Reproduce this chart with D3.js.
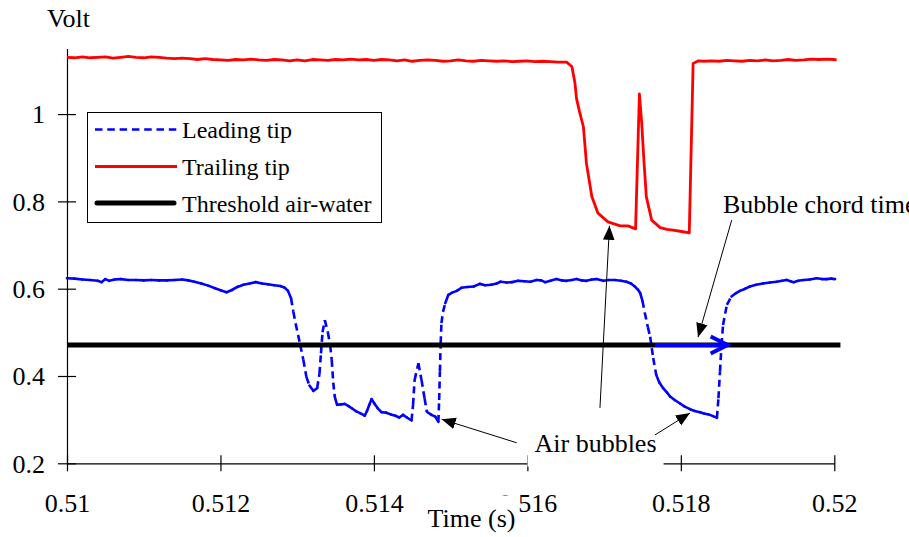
<!DOCTYPE html>
<html><head><meta charset="utf-8">
<script src="https://cdn.jsdelivr.net/npm/d3@7"></script>
<style>
body{margin:0;background:#fff;}
text{font-family:"Liberation Serif","Times New Roman",serif;fill:#000;}
</style></head><body>
<svg id="c" width="909" height="537"></svg>
<script>
// ---------------- data ----------------
const seriesNames = ["Leading tip", "Trailing tip", "Threshold air-water"];

const leadingT = [0.51000,0.51010,0.51020,0.51030,0.51040,0.51045,0.51050,0.51055,0.51062,0.51070,0.51080,0.51090,0.51100,0.51110,0.51120,0.51130,0.51140,0.51150,0.51158,0.51166,0.51175,0.51184,0.51193,0.51201,0.51208,0.51215,0.51222,0.51230,0.51238,0.51246,0.51254,0.51262,0.51270,0.51278,0.51284,0.51288,
0.51292,0.51295,0.51298,0.51304,0.51308,0.51312,0.51316,0.51321,0.51326,0.51329,0.51331,0.51333,0.51336,0.51340,0.51343,0.51345,0.51347,0.51349,0.51352,0.51357,0.51362,0.51367,0.51372,0.51377,0.51382,0.51388,0.51391,0.51394,0.51397,0.51401,0.51405,0.51410,0.51416,0.51422,0.51428,0.51433,0.51438,0.51443,0.51449,0.51451,0.51453,0.51458,0.51462,0.51466,0.51469,0.51475,0.51480,0.51484,0.51485,0.51486,0.51487,0.51488,0.51490,0.51493,0.51497,
0.51502,0.51508,0.51514,0.51522,0.51530,0.51538,0.51545,0.51553,0.51560,0.51565,0.51573,0.51580,0.51588,0.51596,0.51604,0.51612,0.51618,0.51623,0.51630,0.51638,0.51645,0.51651,0.51658,0.51664,0.51671,0.51677,0.51684,0.51690,0.51699,0.51706,0.51714,0.51722,0.51729,0.51735,0.51740,0.51744,0.51747,
0.51750,0.51753,0.51757,0.51760,0.51764,0.51768,0.51772,0.51777,0.51782,0.51786,0.51792,0.51799,0.51805,0.51812,0.51818,0.51825,0.51830,0.51836,0.51842,0.51847,0.51849,0.51851,0.51853,0.51855,0.51860,0.51866,0.51872,0.51877,0.51884,0.51890,0.51898,0.51907,0.51916,0.51925,0.51932,0.51938,0.51943,0.51947,0.51953,0.51960,0.51968,0.51977,0.51984,0.51990,0.51996,0.52001];
const leadingV = [0.624,0.623,0.621,0.620,0.618,0.615,0.622,0.618,0.621,0.622,0.620,0.620,0.619,0.620,0.619,0.619,0.620,0.621,0.619,0.616,0.612,0.607,0.601,0.596,0.592,0.597,0.604,0.609,0.612,0.615,0.612,0.610,0.608,0.606,0.602,0.595,
0.578,0.547,0.520,0.471,0.437,0.398,0.378,0.366,0.372,0.405,0.452,0.500,0.528,0.500,0.470,0.437,0.385,0.352,0.334,0.335,0.336,0.331,0.325,0.319,0.315,0.309,0.320,0.334,0.347,0.336,0.326,0.317,0.316,0.312,0.309,0.305,0.311,0.305,0.298,0.334,0.391,0.429,0.391,0.349,0.318,0.311,0.307,0.295,0.345,0.410,0.475,0.521,0.547,0.567,0.586,
0.591,0.595,0.602,0.604,0.605,0.611,0.608,0.609,0.612,0.616,0.614,0.615,0.618,0.617,0.616,0.620,0.619,0.615,0.618,0.622,0.619,0.618,0.620,0.622,0.619,0.618,0.621,0.622,0.618,0.620,0.620,0.618,0.616,0.612,0.605,0.598,0.590,
0.572,0.545,0.512,0.490,0.441,0.402,0.385,0.372,0.362,0.353,0.345,0.337,0.330,0.324,0.320,0.317,0.314,0.312,0.308,0.304,0.349,0.410,0.471,0.517,0.563,0.582,0.590,0.595,0.600,0.605,0.609,0.612,0.614,0.616,0.618,0.620,0.617,0.615,0.618,0.620,0.621,0.624,0.622,0.622,0.623,0.622];

const trailingT = [0.51000,0.51010,0.51020,0.51030,0.51040,0.51050,0.51060,0.51070,0.51080,0.51090,0.51100,0.51110,0.51120,0.51130,0.51140,0.51150,0.51160,0.51170,0.51180,0.51190,0.51200,0.51210,0.51220,0.51230,0.51240,0.51250,0.51260,0.51270,0.51280,0.51290,0.51300,0.51310,0.51320,0.51330,0.51340,0.51350,0.51360,0.51370,0.51380,0.51390,0.51400,0.51410,0.51420,0.51430,0.51440,0.51450,0.51460,0.51470,0.51480,0.51490,0.51500,0.51510,0.51520,0.51530,0.51540,0.51550,0.51560,0.51570,0.51580,0.51590,0.51600,0.51610,0.51620,0.51630,0.51640,
0.51651,0.51658,0.51662,0.51664,0.51668,0.51673,0.51677,0.51684,0.51692,0.51705,0.51721,0.51731,0.51741,0.51746,0.51749,0.51752,0.51755,0.51762,0.51773,0.51782,0.51790,0.51801,0.51811,0.51816,0.51823,
0.51830,0.51840,0.51850,0.51860,0.51870,0.51880,0.51890,0.51900,0.51910,0.51920,0.51930,0.51940,0.51950,0.51960,0.51970,0.51980,0.51990,0.52000,0.52003];
const trailingV = [1.130,1.129,1.131,1.129,1.130,1.131,1.128,1.130,1.132,1.130,1.129,1.131,1.130,1.128,1.127,1.128,1.127,1.125,1.127,1.125,1.124,1.123,1.125,1.124,1.126,1.124,1.123,1.125,1.124,1.122,1.124,1.122,1.125,1.124,1.123,1.125,1.124,1.126,1.124,1.125,1.123,1.125,1.124,1.122,1.124,1.121,1.123,1.124,1.123,1.121,1.122,1.124,1.122,1.121,1.123,1.122,1.121,1.122,1.120,1.121,1.122,1.120,1.121,1.120,1.119,
1.119,1.109,1.071,1.036,1.005,0.971,0.887,0.811,0.773,0.753,0.744,0.744,0.737,1.046,0.980,0.890,0.811,0.757,0.740,0.736,0.734,0.731,0.728,1.116,1.122,
1.121,1.122,1.121,1.123,1.122,1.121,1.123,1.122,1.124,1.122,1.123,1.125,1.123,1.124,1.126,1.125,1.126,1.125,1.124];

const thresholdT = [0.51, 0.52008];
const thresholdV = [0.471, 0.471];

const xMajor = [0.51, 0.512, 0.514, 0.516, 0.518, 0.52];
const xMajorLabels = ["0.51", "0.512", "0.514", "0.516", "0.518", "0.52"];
const xMinor = [0.511, 0.513, 0.515, 0.517, 0.519];
const yMajor = [0.2, 0.4, 0.6, 0.8, 1.0];
const yMajorLabels = ["0.2", "0.4", "0.6", "0.8", "1"];
const yMinor = [0.3, 0.5, 0.7, 0.9, 1.1];

// annotation arrows (data coordinates): tail -> tip
const arrowTailT = [0.515861, 0.517663, 0.516946, 0.518663];
const arrowTailV = [0.247, 0.265, 0.327, 0.757];
const arrowTipT  = [0.514883, 0.518119, 0.517070, 0.518224];
const arrowTipV  = [0.301, 0.315, 0.744, 0.489];
// bubble chord time arrow along threshold
const chordT = [0.51766, 0.51861];
const chordV = 0.471;
const airLabel = {text: "Air bubbles", t: 0.516888, v: 0.2266};
const chordLabel = {text: "Bubble chord time", t: 0.518549, v: 0.773};

// ---------------- chart ----------------
const svg = d3.select("#c");
const x = d3.scaleLinear().domain([0.51, 0.52]).range([67, 834.3]);
const y = d3.scaleLinear().domain([0.2, 1.15]).range([463.3, 48.6]);
const FS = 26;

const defs = svg.append("defs");
defs.append("marker").attr("id", "ah").attr("viewBox", "-14 -7 15 14")
  .attr("markerUnits", "userSpaceOnUse").attr("markerWidth", 15).attr("markerHeight", 14)
  .attr("refX", 0).attr("refY", 0).attr("orient", "auto")
  .append("path").attr("d", "M0,0 L-14,-5.8 L-14,5.8 Z").attr("fill", "#000");

// axes
const gx = svg.append("g").attr("transform", `translate(0,${y(0.2)})`);
gx.call(d3.axisBottom(x).tickValues(xMinor).tickSize(7).tickSizeOuter(0).tickFormat(""));
gx.call(d3.axisBottom(x).tickValues(xMajor).tickSize(8).tickSizeOuter(0)
  .tickFormat((d, i) => xMajorLabels[i]));
gx.selectAll(".tick line").filter(d => xMajor.includes(d)).attr("y1", -8);
gx.selectAll("path.domain").attr("stroke", "#000").attr("stroke-width", 1.2);
gx.selectAll(".tick line").attr("stroke", "#000").attr("stroke-width", 1.2);
gx.selectAll("text").attr("y", 48.5).attr("dy", 0).attr("font-size", FS)
  .attr("font-family", "Liberation Serif").attr("fill", "#000");

const gy = svg.append("g").attr("transform", `translate(${x(0.51)},0)`);
gy.call(d3.axisLeft(y).tickValues(yMinor).tickSize(7).tickSizeOuter(0).tickFormat(""));
gy.call(d3.axisLeft(y).tickValues(yMajor).tickSize(9).tickSizeOuter(0)
  .tickFormat((d, i) => yMajorLabels[i]));
gy.selectAll(".tick line").filter(d => yMajor.includes(d)).attr("x1", 9);
gy.selectAll("path.domain").attr("stroke", "#000").attr("stroke-width", 1.2);
gy.selectAll(".tick line").attr("stroke", "#000").attr("stroke-width", 1.2);
gy.selectAll("text").attr("x", -22).attr("dy", "0.34em").attr("font-size", FS)
  .attr("font-family", "Liberation Serif").attr("fill", "#000");

svg.append("text").attr("x", 47).attr("y", 27).attr("font-size", FS).text("Volt");

// series
const line = d3.line().x(d => x(d[0])).y(d => y(d[1]));
const leadPts = leadingT.map((t, i) => [t, leadingV[i]]);
const gLead = svg.append("g");
for (let i = 0; i < leadPts.length - 1; i++) {
  const a = leadPts[i], b = leadPts[i + 1];
  const len = Math.hypot(x(b[0]) - x(a[0]), y(b[1]) - y(a[1]));
  // dash pattern restarts on every segment (short segments look solid)
  gLead.append("path").attr("d", line([a, b]))
    .attr("fill", "none").attr("stroke", "#0000ff").attr("stroke-width", 2.6)
    .attr("stroke-dasharray", len > 9 ? "7,4.5" : null)
    .attr("stroke-linecap", len > 9 ? "butt" : "round");
}
svg.append("path").attr("d", line(trailingT.map((t, i) => [t, trailingV[i]])))
  .attr("fill", "none").attr("stroke", "#ff0000").attr("stroke-width", 2.8)
  .attr("stroke-linejoin", "round");
svg.append("path").attr("d", line(thresholdT.map((t, i) => [t, thresholdV[i]])))
  .attr("fill", "none").attr("stroke", "#000").attr("stroke-width", 5);

// chord arrow
const cx1 = x(chordT[0]), cx2 = x(chordT[1]), cy = y(chordV);
svg.append("line").attr("x1", cx1).attr("x2", cx2 - 2).attr("y1", cy).attr("y2", cy)
  .attr("stroke", "#0000ff").attr("stroke-width", 4);
svg.append("polyline").attr("points", `${cx2 - 17},${cy - 8.5} ${cx2},${cy} ${cx2 - 17},${cy + 8.5}`)
  .attr("fill", "none").attr("stroke", "#0000ff").attr("stroke-width", 4);

// text boxes
function boxedText(tx, ty, txt, anchor, pad) {
  const g = svg.append("g");
  const r = g.append("rect").attr("fill", "#fff");
  const t = g.append("text").attr("x", tx).attr("y", ty).attr("font-size", FS)
    .attr("text-anchor", anchor).text(txt);
  const b = t.node().getBBox();
  r.attr("x", b.x - pad[0]).attr("y", b.y - pad[1])
   .attr("width", b.width + pad[0] + pad[2]).attr("height", b.height + pad[1] + pad[3]);
  return g;
}
boxedText(x(airLabel.t), y(airLabel.v), airLabel.text, "middle", [7, 6, 7, 9]);
boxedText(471.5, 526.5, "Time (s)", "middle", [7, 8, 3, 4]);
boxedText(x(chordLabel.t), y(chordLabel.v), chordLabel.text, "start", [4, 2, 4, 2]);

// annotation arrows
arrowTailT.forEach((t, i) => {
  svg.append("line").attr("x1", x(t)).attr("y1", y(arrowTailV[i]))
    .attr("x2", x(arrowTipT[i])).attr("y2", y(arrowTipV[i]))
    .attr("stroke", "#000").attr("stroke-width", 1).attr("marker-end", "url(#ah)");
});

// legend
const lg = svg.append("g");
lg.append("rect").attr("x", 87.5).attr("y", 112.5).attr("width", 294).attr("height", 110)
  .attr("fill", "#fff").attr("stroke", "#000").attr("stroke-width", 1);
const rowsY = [129.5, 166.5, 203];
lg.append("line").attr("x1", 95).attr("x2", 177).attr("y1", rowsY[0]).attr("y2", rowsY[0])
  .attr("stroke", "#0000ff").attr("stroke-width", 2.6).attr("stroke-dasharray", "7.5,4.8");
lg.append("line").attr("x1", 95).attr("x2", 177).attr("y1", rowsY[1]).attr("y2", rowsY[1])
  .attr("stroke", "#ff0000").attr("stroke-width", 2.8);
lg.append("line").attr("x1", 97).attr("x2", 174).attr("y1", rowsY[2]).attr("y2", rowsY[2])
  .attr("stroke", "#000").attr("stroke-width", 5).attr("stroke-linecap", "round");
seriesNames.forEach((n, i) => {
  lg.append("text").attr("x", 182).attr("y", rowsY[i] + 8.6).attr("font-size", 24).text(n);
});
</script>
</body></html>
